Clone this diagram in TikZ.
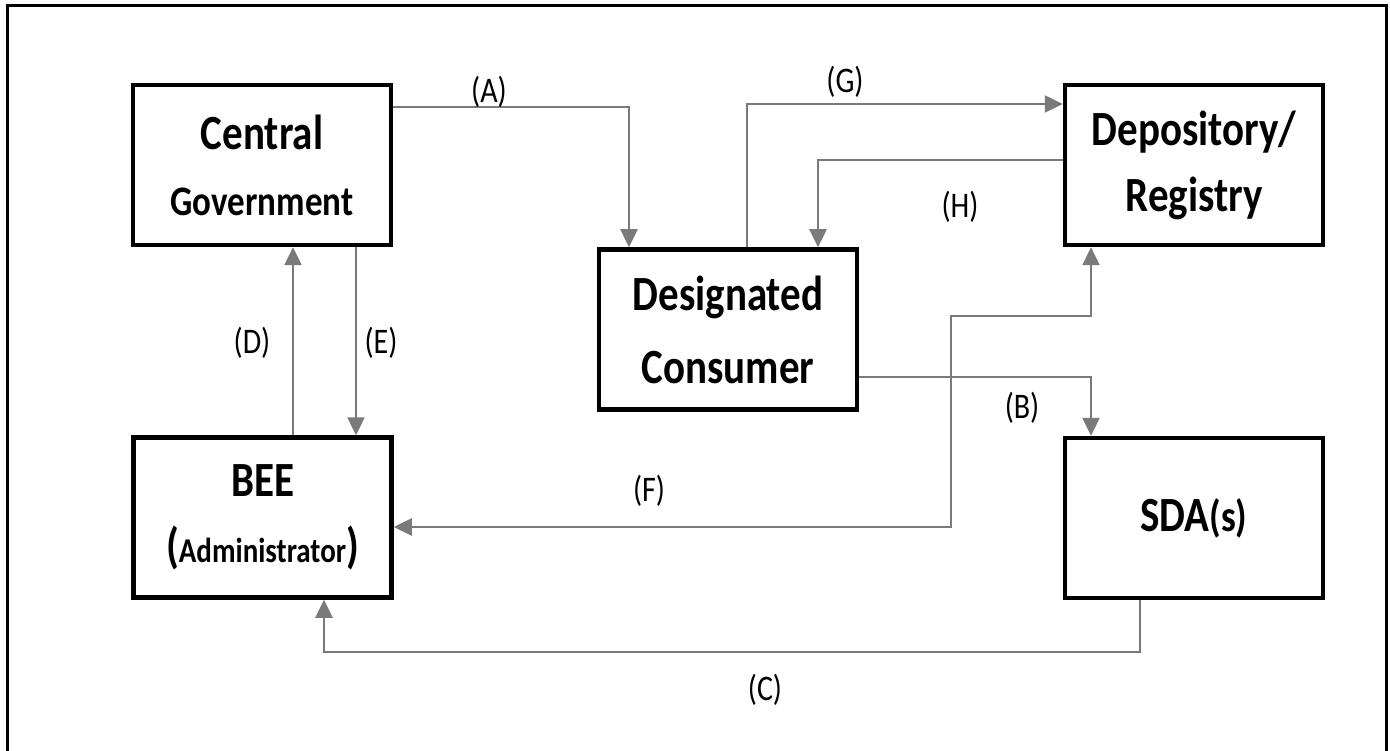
\documentclass[tikz,border=0pt]{standalone}
\usepackage{fontspec}
\usepackage{graphicx}
\setmainfont{Carlito}
\usetikzlibrary{arrows.meta}
\definecolor{conngray}{RGB}{122,122,122}
\newcommand{\vs}[1]{\scalebox{1}[1.2]{#1}}
\tikzset{
  box/.style={draw=black, line width=4.5pt, minimum width=258pt, minimum height=160pt, inner sep=0pt, align=center, font=\bfseries\fontsize{41}{66}\selectfont},
  conn/.style={draw=conngray, line width=2.5pt, -{Triangle[width=17pt,length=18pt]}},
  both/.style={draw=conngray, line width=2.5pt, {Triangle[width=17pt,length=18pt]}-{Triangle[width=17pt,length=18pt]}},
  lbl/.style={font=\fontsize{30}{36}\selectfont, inner sep=0pt}
}
\begin{document}
\begin{tikzpicture}[x=1pt,y=-1pt]
\useasboundingbox (0,0) rectangle (1390,751);
\draw[line width=3pt] (7,6) rectangle (1386,770);

\node[box] (cg) at (262,165) {\vs{Central}\\\vs{\fontsize{35}{66}\selectfont Government}};
\node[box] (dep) at (1194,165) {\vs{Depository/}\\\vs{Registry}};
\node[box, font=\bfseries\fontsize{41}{73}\selectfont] (dc) at (728,329.5) {\vs{Designated}\\\vs{Consumer}};
\node[box] (bee) at (262.5,517.5) {\vs{BEE}\\\vs{({\fontsize{29}{66}\selectfont Administrator})}};
\node[box] (sda) at (1194,518) {\vs{SDA{\fontsize{37}{66}\selectfont(s)}}};

\coordinate (c1) at (700,652);
\coordinate (f1) at (951,527);
\coordinate (f2) at (951,316);

% A
\draw[conn] ([yshift=58pt]cg.east) -| ([xshift=-99pt]dc.north);
% G
\draw[conn] ([xshift=19pt]dc.north) |- ([yshift=61pt]dep.west);
% H
\draw[conn] ([yshift=5pt]dep.west) -| ([xshift=90pt]dc.north);
% B
\draw[conn] ([yshift=-47.5pt]dc.east) -| ([xshift=-103pt]sda.north);
% C
\draw[conn] ([xshift=-54pt]sda.south) |- (c1) -| ([xshift=61.5pt]bee.south);
% D
\draw[conn] ([xshift=30.5pt]bee.north) -- ([xshift=31pt]cg.south);
% E
\draw[conn] ([xshift=94pt]cg.south) -- ([xshift=93.5pt]bee.north);
% F
\draw[both] ([yshift=-9.5pt]bee.east) -- (f1) -- (f2) -| ([xshift=-103pt]dep.south);

\node[lbl] (la) at (489,92) {\vs{(A)}};
\node[lbl] (lg) at (845,82) {\vs{(G)}};
\node[lbl] (lh) at (960,207) {\vs{(H)}};
\node[lbl] (lb) at (1022,408) {\vs{(B)}};
\node[lbl] (lf) at (649,491) {\vs{(F)}};
\node[lbl] (lc) at (765,690) {\vs{(C)}};
\node[lbl] (ld) at (252,343) {\vs{(D)}};
\node[lbl] (le) at (381,343) {\vs{(E)}};
\end{tikzpicture}
\end{document}
